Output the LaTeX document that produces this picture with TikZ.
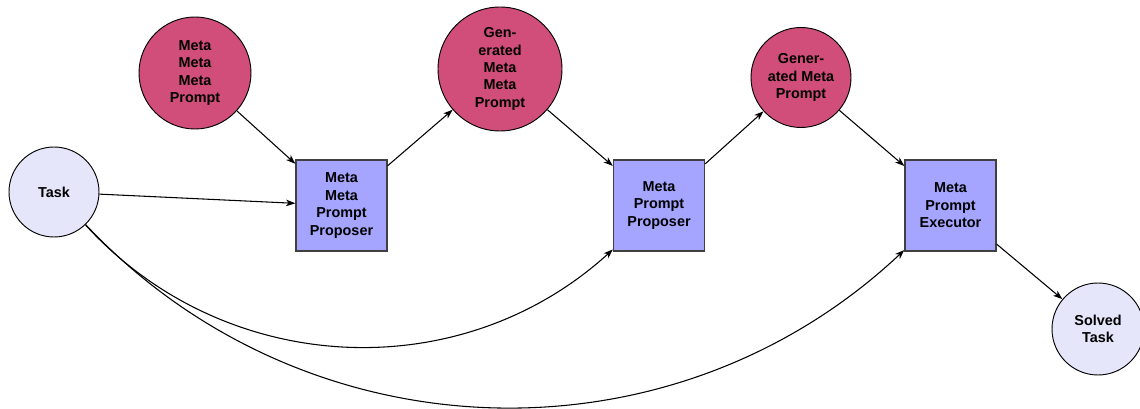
\documentclass[tikz,border=0pt]{standalone}
\usepackage{fontspec}
\setmainfont{Liberation Sans}
\usetikzlibrary{arrows.meta}
\definecolor{promptred}{RGB}{209,78,122}
\definecolor{proposerblue}{RGB}{165,165,255}
\definecolor{tasklav}{RGB}{230,230,250}

\begin{document}
\begin{tikzpicture}[x=0.75pt,y=0.75pt,yscale=-1,xscale=1,
  label font/.style={align=center,font=\bfseries\fontsize{10.8}{13.1}\selectfont},
  prompt/.style={circle,draw=black,fill=promptred,line width=0.7pt,label font},
  taskcirc/.style={circle,draw=black,fill=tasklav,line width=0.7pt,label font},
  agent/.style={rectangle,draw=black!75,fill=proposerblue,line width=1pt,minimum size=68.25pt,label font},
  flow/.style={-{Stealth[length=7pt,width=5pt,inset=2pt]},line width=0.8pt}]
%set diagram size 1140 x 409
\path[use as bounding box] (0,0) rectangle (1140,409);

%Circles
\node[taskcirc,minimum size=67.5pt] (task) at (54,192) {Task};
\node[prompt,minimum size=84pt] (mmmp) at (195,73) {Meta\\Meta\\Meta\\Prompt};
\node[prompt,minimum size=93pt] (gmmp) at (500,69) {Gen-\\erated\\Meta\\Meta\\Prompt};
\node[prompt,minimum size=75pt] (gmp) at (801,77.5) {Gener-\\ated Meta\\Prompt};
\node[taskcirc,minimum size=69pt] (solved) at (1098,329) {Solved\\Task};

%Boxes
\node[agent] (mmpp) at (341.5,205.5) {Meta\\Meta\\Prompt\\Proposer};
\node[agent] (mpp) at (659,205.5) {Meta\\Prompt\\Proposer};
\node[agent] (mpe) at (950.5,205.5) {Meta\\Prompt\\Executor};

%Straight Lines
\draw[flow] (mmmp) -- (mmpp);
\draw[flow] (task) -- (mmpp);
\draw[flow] (mmpp) -- (gmmp);
\draw[flow] (gmmp) -- (mpp);
\draw[flow] (mpp) -- (gmp);
\draw[flow] (gmp) -- (mpe);
\draw[flow] (mpe) -- (solved);

%Curves (yscale=-1 flips the bend)
\draw[flow] (task) to[bend left=45] (mpp);
\draw[flow] (task) to[bend left=45] (mpe);

\end{tikzpicture}
\end{document}
